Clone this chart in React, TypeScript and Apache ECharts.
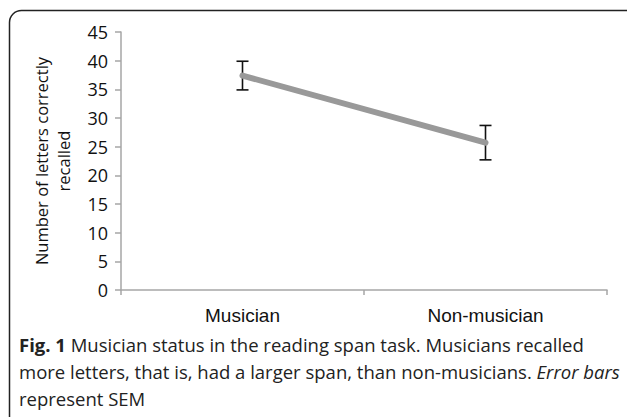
import React, { useEffect, useRef } from "react";
import * as echarts from "echarts";

const categories = ["Musician", "Non-musician"];
const means = [37.4, 25.7];
const sem = [2.5, 3.0];
const yTicks = { min: 0, max: 45, interval: 5 };
const yName = "Number of letters correctly\nrecalled";
const captionLines = [
  "{b|Fig. 1} Musician status in the reading span task. Musicians recalled",
  "more letters, that is, had a larger span, than non-musicians. {i|Error bars}",
  "represent SEM",
];

export default function App() {
  const ref = useRef<HTMLDivElement>(null);
  useEffect(() => {
    document.body.style.margin = "0";
    const chart = echarts.init(ref.current!, null, { renderer: "svg" });
    const capFont = "Open Sans";
    const capSize = 18.5;
    const capY = [344, 371, 398];
    chart.setOption({
      animation: false,
      grid: { left: 121, right: 20, top: 32, bottom: 127 },
      xAxis: {
        type: "category",
        data: categories,
        boundaryGap: true,
        axisLine: { lineStyle: { color: "#a6a6a6", width: 1.5 } },
        axisTick: { show: true, length: 5, lineStyle: { color: "#a6a6a6", width: 1.5 } },
        axisLabel: { fontFamily: "Liberation Sans", fontSize: 19, color: "#111", margin: 16 },
        splitLine: { show: false },
      },
      yAxis: {
        type: "value",
        min: yTicks.min,
        max: yTicks.max,
        interval: yTicks.interval,
        name: yName,
        nameLocation: "middle",
        nameRotate: 90,
        nameGap: 47,
        nameTextStyle: { fontFamily: "Open Sans", fontSize: 16.5, color: "#111", lineHeight: 22 },
        axisLine: { show: true, lineStyle: { color: "#a6a6a6", width: 1.5 } },
        axisTick: { show: true, length: 6, lineStyle: { color: "#a6a6a6", width: 1.5 } },
        axisLabel: { fontFamily: "Open Sans", fontSize: 18, color: "#111", margin: 13 },
        splitLine: { show: false },
      },
      series: [
        {
          type: "custom",
          z: 2,
          data: categories.map((_, i) => [i, means[i] - sem[i], means[i] + sem[i]]),
          renderItem: (params: any, api: any) => {
            const x = api.value(0);
            const top = api.coord([x, api.value(2)]);
            const bot = api.coord([x, api.value(1)]);
            const w = 6;
            const style = { stroke: "#111", lineWidth: 1.6 };
            return {
              type: "group",
              children: [
                { type: "line", shape: { x1: top[0], y1: top[1], x2: bot[0], y2: bot[1] }, style },
                { type: "line", shape: { x1: top[0] - w, y1: top[1], x2: top[0] + w, y2: top[1] }, style },
                { type: "line", shape: { x1: bot[0] - w, y1: bot[1], x2: bot[0] + w, y2: bot[1] }, style },
              ],
            };
          },
        },
        {
          type: "line",
          z: 3,
          data: means,
          symbol: "none",
          lineStyle: { color: "#999999", width: 6, cap: "round" },
        },
      ],
      graphic: [
        {
          type: "rect",
          shape: { x: 9.5, y: 10.5, width: 640, height: 440, r: [12, 12, 0, 0] },
          style: { fill: "none", stroke: "#222", lineWidth: 1.5 },
          silent: true,
        },
        ...captionLines.map((t, i) => ({
          type: "text",
          x: 19,
          y: capY[i],
          style: {
            text: t,
            fontFamily: capFont,
            fontSize: capSize,
            fill: "#222",
            verticalAlign: "middle",
            rich: {
              b: { fontFamily: capFont, fontSize: capSize, fontWeight: "bold", fill: "#222" },
              i: { fontFamily: capFont, fontSize: capSize, fontStyle: "italic", fill: "#222" },
            },
          },
        })),
      ],
    });
    return () => chart.dispose();
  }, []);
  return <div ref={ref} style={{ width: 627, height: 417 }} />;
}
